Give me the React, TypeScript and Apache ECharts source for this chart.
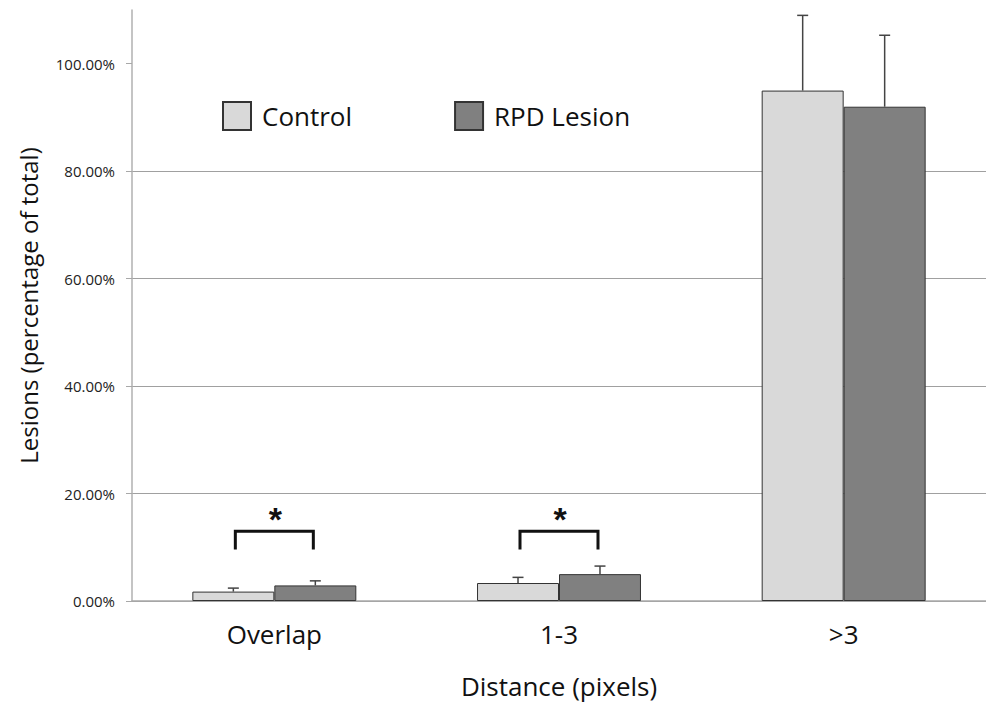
import React, { useEffect, useRef } from "react";
import * as echarts from "echarts";

const categories = ["Overlap", "1-3", ">3"];
const controlValues = [1.75, 3.35, 95.0];
const lesionValues = [2.9, 5.0, 92.0];
const controlErrTop = [2.4, 4.4, 109.0];
const lesionErrTop = [3.75, 6.5, 105.3];
const yTicks = [0, 20, 40, 60, 80, 100];
// significance brackets: [category index, bracket bottom, bracket top, star position]
const sigBrackets = [
  [0, 9.6, 13.0, 16.3],
  [1, 9.6, 13.0, 16.3],
];

const FONT = "'Open Sans', 'Liberation Sans', sans-serif";
const BAR_FRAC = 0.288;

export default function App() {
  const ref = useRef<HTMLDivElement>(null);
  useEffect(() => {
    if (!ref.current) return;
    const chart = echarts.init(ref.current, null, { renderer: "svg" });

    const errData = [
      ...categories.map((_, i) => [i, controlValues[i], controlErrTop[i], -1]),
      ...categories.map((_, i) => [i, lesionValues[i], lesionErrTop[i], 1]),
    ];

    const option: any = {
      animation: false,
      backgroundColor: "#ffffff",
      textStyle: { fontFamily: FONT },
      grid: { left: 132, right: 0, top: 10, bottom: 101, containLabel: false },
      legend: {
        left: 222,
        top: 101,
        padding: 0,
        itemWidth: 28,
        itemHeight: 28,
        itemGap: 102,
        icon: "rect",
        data: ["Control", "RPD Lesion"],
        textStyle: { fontSize: 26, color: "#111", fontFamily: FONT, padding: [0, 0, 0, 6] },
      },
      xAxis: {
        type: "category",
        data: categories,
        boundaryGap: true,
        axisLine: { lineStyle: { color: "#a8a8a8", width: 1.5 } },
        axisTick: { show: false },
        axisLabel: { fontSize: 26, color: "#111", margin: 20, fontFamily: FONT },
        name: "Distance (pixels)",
        nameLocation: "middle",
        nameGap: 72,
        nameTextStyle: { fontSize: 26, color: "#111", fontFamily: FONT },
      },
      yAxis: {
        type: "value",
        min: 0,
        max: 110,
        interval: 20,
        axisLine: { show: true, lineStyle: { color: "#b0b0b0", width: 1.5 } },
        axisTick: {
          show: true,
          length: 6,
          customValues: yTicks,
          lineStyle: { color: "#a8a8a8" },
        },
        splitLine: { show: true, showMaxLine: false, lineStyle: { color: "#a0a0a0", width: 1 } },
        axisLabel: {
          fontSize: 15,
          color: "#222",
          margin: 17,
          fontFamily: FONT,
          customValues: yTicks,
          formatter: (v: number) => v.toFixed(2) + "%",
        },
        name: "Lesions (percentage of total)",
        nameLocation: "middle",
        nameGap: 92,
        nameTextStyle: { fontSize: 24, color: "#111", fontFamily: FONT },
      },
      series: [
        {
          name: "Control",
          type: "bar",
          data: controlValues,
          barWidth: BAR_FRAC * 100 + "%",
          barGap: "0%",
          itemStyle: { color: "#d9d9d9", borderColor: "#333", borderWidth: 1 },
          z: 2,
        },
        {
          name: "RPD Lesion",
          type: "bar",
          data: lesionValues,
          barWidth: BAR_FRAC * 100 + "%",
          barGap: "0%",
          itemStyle: { color: "#808080", borderColor: "#333", borderWidth: 1 },
          z: 2,
        },
        {
          type: "custom",
          name: "errors",
          data: errData,
          z: 5,
          silent: true,
          renderItem: (params: any, api: any) => {
            const cat = api.value(0);
            const base = api.coord([cat, api.value(1)]);
            const top = api.coord([cat, api.value(2)]);
            const band = api.size([1, 0])[0];
            const x = base[0] + api.value(3) * band * BAR_FRAC / 2;
            return {
              type: "group",
              children: [
                {
                  type: "line",
                  shape: { x1: x, y1: base[1], x2: x, y2: top[1] },
                  style: { stroke: "#444", lineWidth: 1.5 },
                },
                {
                  type: "line",
                  shape: { x1: x - 5.5, y1: top[1], x2: x + 5.5, y2: top[1] },
                  style: { stroke: "#444", lineWidth: 1.5 },
                },
              ],
            };
          },
        },
        {
          type: "custom",
          name: "significance",
          data: sigBrackets,
          z: 5,
          silent: true,
          renderItem: (params: any, api: any) => {
            const cat = api.value(0);
            const b = api.coord([cat, api.value(1)]);
            const t = api.coord([cat, api.value(2)]);
            const s = api.coord([cat, api.value(3)]);
            const band = api.size([1, 0])[0];
            const half = band * 0.137;
            return {
              type: "group",
              children: [
                {
                  type: "polyline",
                  shape: {
                    points: [
                      [b[0] - half, b[1]],
                      [b[0] - half, t[1]],
                      [b[0] + half, t[1]],
                      [b[0] + half, b[1]],
                    ],
                  },
                  style: { stroke: "#111", lineWidth: 3, fill: null },
                },
                {
                  type: "text",
                  x: s[0] + 1,
                  y: s[1] + 6,
                  style: {
                    text: "*",
                    fontSize: 34,
                    fontWeight: "bold",
                    fontFamily: "'Liberation Sans', sans-serif",
                    fill: "#111",
                    align: "center",
                    verticalAlign: "middle",
                  },
                },
              ],
            };
          },
        },
      ],
    };
    chart.setOption(option);
    return () => chart.dispose();
  }, []);

  return (
    <div
      ref={ref}
      style={{ position: "fixed", left: 0, top: 0, width: 986, height: 704, background: "#fff" }}
    />
  );
}
